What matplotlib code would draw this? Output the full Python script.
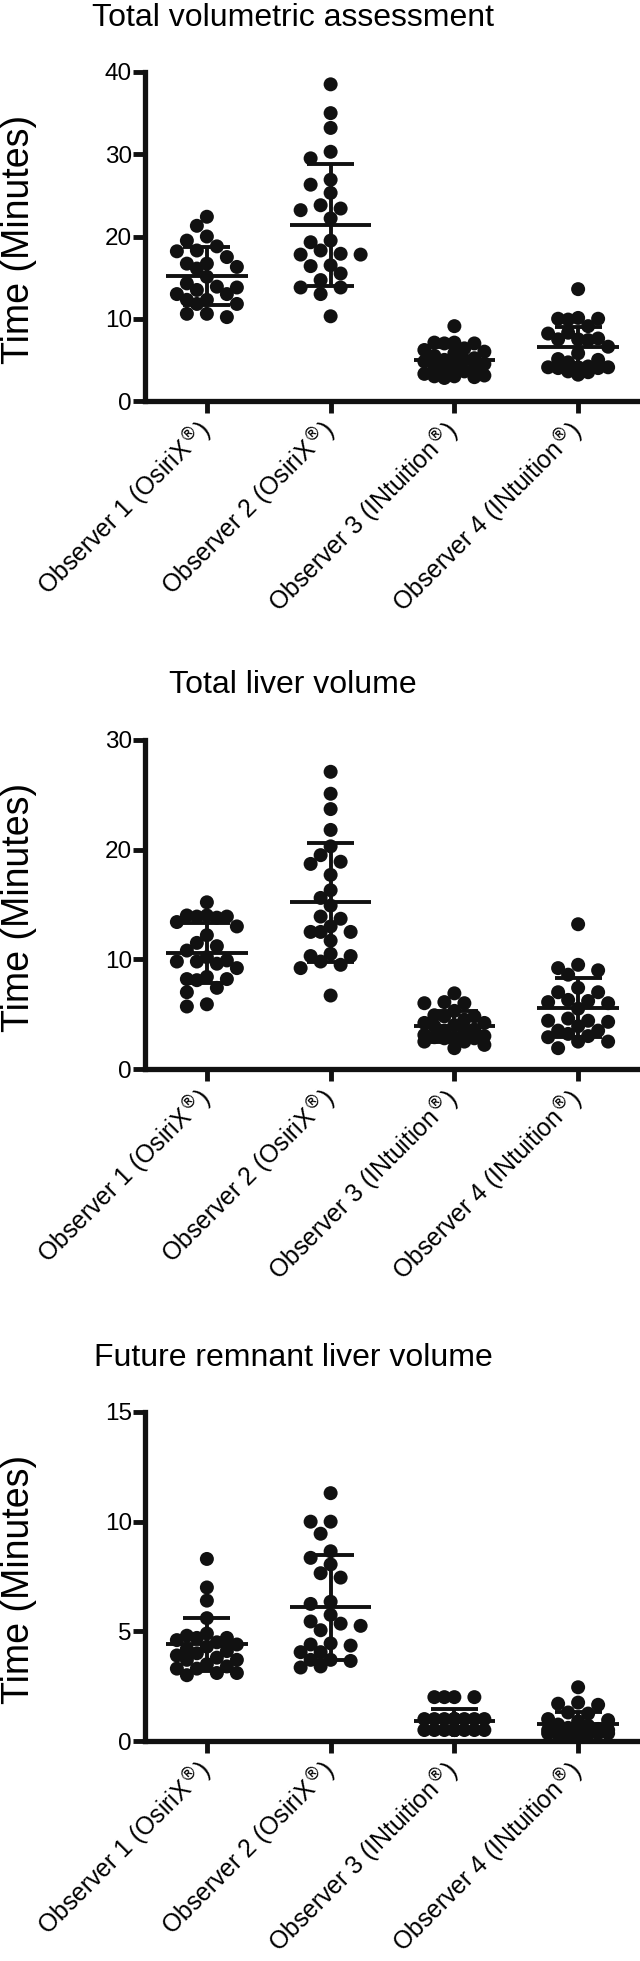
import numpy as np
import matplotlib
matplotlib.use('Agg')
import matplotlib.pyplot as plt

plt.rcParams['font.family'] = ['Liberation Sans', 'DejaVu Sans']

observers = [r'Observer 1 (OsiriX$^{\circledR}$)', r'Observer 2 (OsiriX$^{\circledR}$)',
             r'Observer 3 (INtuition$^{\circledR}$)', r'Observer 4 (INtuition$^{\circledR}$)']
titles = ['Total volumetric assessment', 'Total liver volume', 'Future remnant liver volume']
y_max = [40, 30, 15]
y_ticks = [[0, 10, 20, 30, 40], [0, 10, 20, 30], [0, 5, 10, 15]]

# total volumetric assessment (minutes)
tva_o1 = [22.4, 21.3, 20.0, 19.5, 18.8, 18.3, 18.2, 17.5, 16.7, 16.7, 16.3, 16.1, 14.3,
          15.1, 13.9, 13.8, 13.5, 13.0, 13.0, 12.3, 12.3, 11.8, 11.8, 10.6, 10.6, 10.2]
tva_o2 = [38.5, 35.0, 33.2, 30.3, 29.5, 26.9, 26.3, 25.3, 23.8, 23.4, 23.2, 22.2, 19.5,
          19.3, 18.3, 17.9, 17.8, 17.8, 16.5, 16.4, 15.5, 14.7, 13.8, 13.8, 13.0, 10.3]
tva_o3 = [9.1, 7.1, 7.1, 7.0, 7.0, 6.4, 6.2, 6.0, 5.8, 5.5, 5.2, 5.0, 5.0, 4.8, 4.5, 4.3,
          4.1, 4.0, 3.9, 3.6, 3.3, 3.1, 3.0, 3.0, 2.9, 2.8]
tva_o4 = [13.6, 10.1, 10.0, 10.0, 9.9, 9.1, 8.3, 8.2, 7.6, 7.5, 7.5, 7.4, 6.6, 5.8, 5.1,
          5.0, 4.7, 4.2, 4.1, 4.1, 4.1, 4.0, 4.0, 3.6, 3.5, 3.2]
tva_mean = [15.2, 21.4, 5.0, 6.6]
tva_sd = [3.5, 7.4, 1.6, 2.4]

# total liver volume
tlv_o1 = [15.2, 14.0, 14.0, 13.9, 13.9, 13.8, 13.4, 13.0, 12.2, 11.5, 11.2, 10.8, 10.2,
          9.9, 9.8, 9.8, 9.6, 9.2, 8.4, 8.2, 8.2, 8.1, 7.4, 7.0, 5.9, 5.7]
tlv_o2 = [27.1, 25.1, 23.7, 21.8, 20.3, 19.5, 18.9, 18.7, 17.7, 16.3, 15.6, 14.9, 13.9,
          13.7, 13.0, 12.5, 12.5, 12.5, 11.7, 10.5, 10.3, 10.3, 9.8, 9.5, 9.2, 6.7]
tlv_o3 = [6.9, 6.1, 6.0, 6.0, 5.3, 4.9, 4.8, 4.8, 4.5, 4.2, 4.2, 4.0, 3.9, 3.6, 3.5, 3.3,
          3.1, 3.0, 2.9, 2.9, 2.8, 2.8, 2.5, 2.5, 2.2, 1.9]
tlv_o4 = [13.2, 9.5, 9.2, 9.0, 8.6, 7.4, 7.0, 7.0, 6.3, 6.2, 6.1, 6.0, 5.5, 4.6, 4.4, 4.4,
          4.3, 3.9, 3.5, 3.5, 3.2, 3.0, 2.9, 2.5, 2.5, 1.9]
tlv_mean = [10.6, 15.2, 3.9, 5.6]
tlv_sd = [2.75, 5.4, 1.4, 2.7]

# future remnant liver volume
frl_o1 = [8.3, 7.0, 6.4, 5.6, 4.9, 4.8, 4.7, 4.7, 4.6, 4.5, 4.4, 4.3, 4.2, 4.1, 4.0, 3.9,
          3.8, 3.7, 3.7, 3.5, 3.4, 3.3, 3.3, 3.1, 3.1, 3.0]
frl_o2 = [11.3, 10.0, 10.0, 9.45, 8.65, 8.35, 8.05, 7.65, 7.45, 6.35, 6.25, 5.75, 5.45,
          5.35, 5.25, 5.05, 4.45, 4.4, 4.35, 4.05, 4.05, 3.7, 3.7, 3.65, 3.4, 3.35]
frl_o3 = [2.0, 2.0, 2.0, 2.0, 1.0, 1.0, 1.0, 1.0, 1.0, 1.0, 1.0, 1.0, 1.0, 1.0,
          0.5, 0.5, 0.5, 0.5, 0.5, 0.5, 0.5, 0.5, 0.5, 0.5, 0.5, 0.5]
frl_o4 = [2.45, 1.75, 1.7, 1.65, 1.3, 1.25, 1.0, 0.95, 0.9, 0.75, 0.7, 0.6, 0.55, 0.5,
          0.5, 0.45, 0.4, 0.4, 0.4, 0.35, 0.35, 0.35, 0.3, 0.3, 0.3, 0.3]
frl_mean = [4.4, 6.1, 0.92, 0.78]
frl_sd = [1.2, 2.4, 0.53, 0.52]

panels = [
    ([tva_o1, tva_o2, tva_o3, tva_o4], tva_mean, tva_sd),
    ([tlv_o1, tlv_o2, tlv_o3, tlv_o4], tlv_mean, tlv_sd),
    ([frl_o1, frl_o2, frl_o3, frl_o4], frl_mean, frl_sd),
]

W, H = 640, 1961
fig = plt.figure(figsize=(W / 100, H / 100), dpi=100)

ax_left, ax_w, ax_h = 145, 495, 329
ax_tops = [72, 740, 1412]
title_y = [18, 685, 1358]

marker_d = 14.0  # px


def swarm(vals, ppx, ppy, step=10.0, min_dist=12.5, kmax=3):
    # beeswarm limited to +-kmax steps; when full, take the least crowded slot
    vals = np.asarray(vals, dtype=float)
    offs = np.zeros(len(vals))
    placed = []
    ks = [0]
    for k in range(1, kmax + 1):
        ks += [-k, k]
    for i in np.argsort(-vals):
        y = vals[i] * ppy
        best, best_d = 0, -1
        for k in ks:
            x = k * step
            d = min([np.hypot(x - px, y - py) for px, py in placed] or [1e9])
            if d >= min_dist:
                best = k
                break
            if d > best_d + 0.5:
                best, best_d = k, d
        placed.append((best * step, y))
        offs[i] = best * step / ppx
    return offs


for p, (groups, means, sds) in enumerate(panels):
    top = ax_tops[p]
    ax = fig.add_axes([ax_left / W, 1 - (top + ax_h) / H, ax_w / W, ax_h / H])
    ax.set_xlim(0.5, 4.5)
    ax.set_ylim(0, y_max[p])
    ppx = ax_w / 4.0
    ppy = ax_h / y_max[p]
    for g, vals in enumerate(groups):
        xc = g + 1
        offs = swarm(vals, ppx, ppy)
        ax.scatter(xc + offs, vals, s=(marker_d * 0.72) ** 2, color='#111111',
                   edgecolors='none', clip_on=False, zorder=3)
        m, s = means[g], sds[g]
        ax.hlines(m, xc - 0.33, xc + 0.33, color='#111111', lw=2.8, zorder=4)
        ax.hlines([m - s, m + s], xc - 0.19, xc + 0.19, color='#111111', lw=2.8, zorder=4)
        ax.vlines(xc, m - s, m + s, color='#111111', lw=2.8, zorder=4)

    for side in ['top', 'right']:
        ax.spines[side].set_visible(False)
    for side in ['left', 'bottom']:
        ax.spines[side].set_linewidth(3.8)
        ax.spines[side].set_color('#111111')
    ax.set_yticks(y_ticks[p])
    ax.set_xticks([1, 2, 3, 4])
    ax.set_xticklabels(observers, rotation=45, ha='right', va='center',
                       rotation_mode='anchor', fontsize=17.8)
    ax.tick_params(axis='both', length=8.5, width=3.5, color='#111111')
    ax.tick_params(axis='y', labelsize=17.5, pad=1)
    ax.tick_params(axis='x', pad=10)
    ax.set_ylabel('Time (Minutes)', fontsize=27, va='center')
    ax.yaxis.set_label_coords(-126 / ax_w, 0.49)

    fig.text(293 / W, 1 - title_y[p] / H, titles[p], fontsize=23,
             ha='center', va='center')

fig.savefig('out.png', dpi=100)
